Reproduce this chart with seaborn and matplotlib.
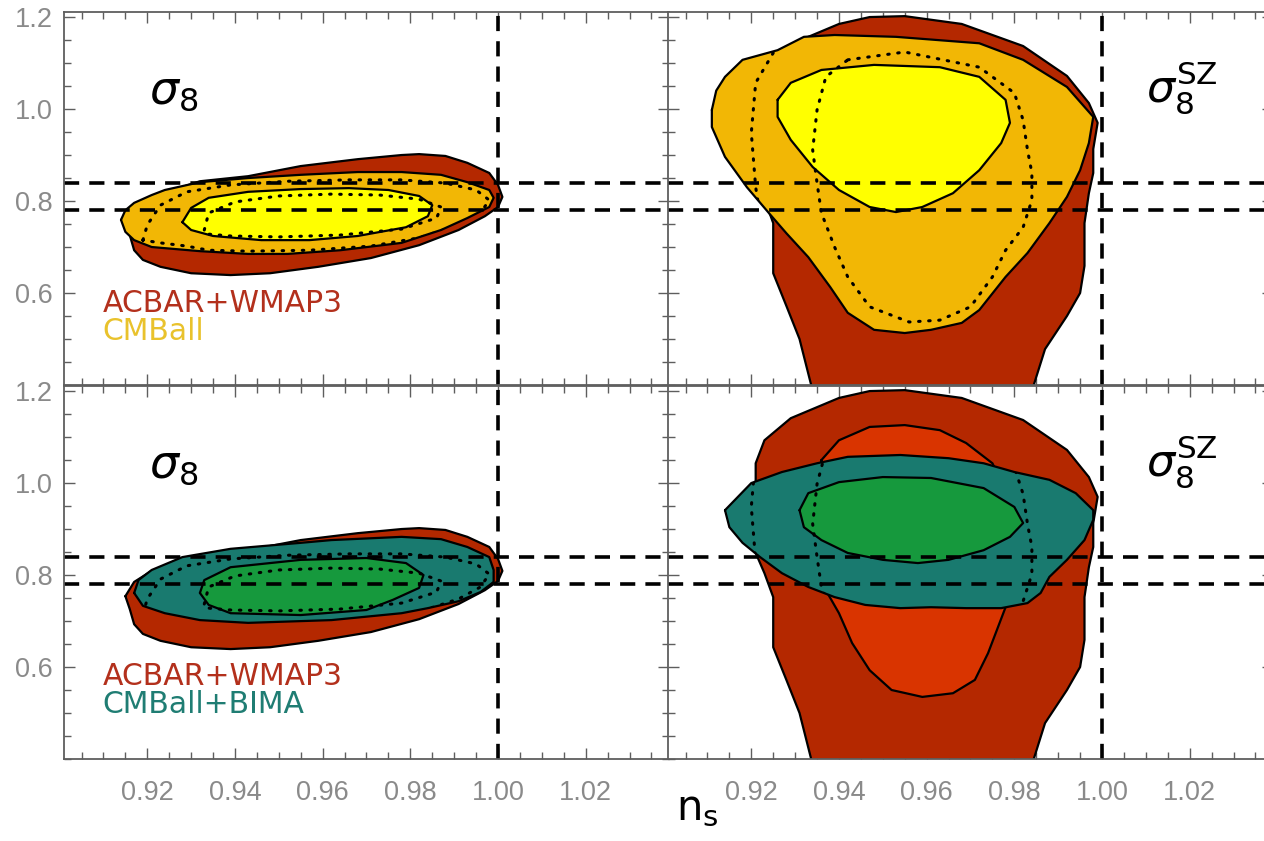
import matplotlib
matplotlib.use("Agg")
import matplotlib.pyplot as plt
import seaborn as sns
from matplotlib.ticker import FixedLocator, MultipleLocator, FormatStrFormatter

# ---------------- data (contour boundaries) ----------------
# left column: sigma_8
acbar_s8_95_ns = [0.915, 0.917, 0.921, 0.932, 0.943, 0.955, 0.968, 0.978, 0.982, 0.988, 0.993, 0.998, 1.000,
                  1.001, 1.000, 0.997, 0.991, 0.982, 0.971, 0.959, 0.948, 0.939, 0.930, 0.923, 0.919, 0.917, 0.916]
acbar_s8_95_s8 = [0.754, 0.785, 0.809, 0.843, 0.854, 0.876, 0.891, 0.900, 0.902, 0.898, 0.883, 0.861, 0.835,
                  0.809, 0.787, 0.767, 0.737, 0.704, 0.676, 0.657, 0.643, 0.639, 0.643, 0.657, 0.672, 0.693, 0.726]

cmball_s8_95_ns = [0.914, 0.915, 0.917, 0.921, 0.924, 0.932, 0.943, 0.955, 0.968, 0.978, 0.987, 0.993, 0.998,
                   0.999, 0.998, 0.993, 0.987, 0.978, 0.964, 0.952, 0.943, 0.932, 0.921, 0.917, 0.915]
cmball_s8_95_s8 = [0.759, 0.780, 0.796, 0.813, 0.824, 0.841, 0.850, 0.857, 0.863, 0.863, 0.857, 0.841, 0.824,
                   0.807, 0.787, 0.763, 0.737, 0.709, 0.693, 0.685, 0.685, 0.691, 0.700, 0.715, 0.733]
cmball_s8_68_ns = [0.928, 0.930, 0.934, 0.943, 0.955, 0.966, 0.975, 0.982, 0.985, 0.984, 0.979, 0.968, 0.957,
                   0.946, 0.935, 0.930]
cmball_s8_68_s8 = [0.754, 0.785, 0.807, 0.820, 0.826, 0.828, 0.824, 0.811, 0.791, 0.767, 0.743, 0.724, 0.715,
                   0.715, 0.724, 0.737]

bima_s8_95_ns = [0.917, 0.918, 0.921, 0.928, 0.939, 0.955, 0.962, 0.978, 0.987, 0.993, 0.998, 0.999, 0.999,
                 0.996, 0.991, 0.984, 0.978, 0.962, 0.943, 0.932, 0.924, 0.919]
bima_s8_95_s8 = [0.761, 0.789, 0.811, 0.839, 0.857, 0.870, 0.876, 0.883, 0.878, 0.861, 0.839, 0.811, 0.785,
                 0.763, 0.743, 0.728, 0.717, 0.702, 0.696, 0.702, 0.717, 0.733]
bima_s8_68_ns = [0.932, 0.933, 0.939, 0.955, 0.970, 0.979, 0.983, 0.982, 0.976, 0.970, 0.955, 0.939, 0.934]
bima_s8_68_s8 = [0.761, 0.789, 0.817, 0.833, 0.837, 0.826, 0.800, 0.772, 0.746, 0.724, 0.713, 0.717, 0.735]

ref_s8_95_ns = [0.919, 0.920, 0.923, 0.929, 0.939, 0.952, 0.966, 0.978, 0.988, 0.995, 0.998, 0.996, 0.991,
                0.982, 0.971, 0.957, 0.943, 0.934, 0.929, 0.923]
ref_s8_95_s8 = [0.715, 0.748, 0.791, 0.820, 0.835, 0.843, 0.846, 0.846, 0.839, 0.824, 0.802, 0.774, 0.748,
                0.720, 0.702, 0.693, 0.691, 0.693, 0.702, 0.709]
ref_s8_68_ns = [0.933, 0.934, 0.940, 0.950, 0.962, 0.973, 0.982, 0.987, 0.986, 0.978, 0.964, 0.950, 0.939, 0.934]
ref_s8_68_s8 = [0.737, 0.774, 0.798, 0.811, 0.815, 0.813, 0.804, 0.787, 0.763, 0.739, 0.726, 0.722, 0.724, 0.728]

# right column: sigma_8^SZ
acbar_sz_95_ns = [0.934, 0.931, 0.928, 0.925, 0.925, 0.925, 0.923, 0.921, 0.921, 0.921, 0.921, 0.923, 0.929,
                  0.940, 0.947, 0.955, 0.968, 0.982, 0.992, 0.997, 0.999, 0.998, 0.998, 0.997, 0.996, 0.996,
                  0.996, 0.995, 0.992, 0.987, 0.984]
acbar_sz_95_s8 = [0.387, 0.500, 0.572, 0.643, 0.702, 0.752, 0.804, 0.848, 0.941, 1.007, 1.043, 1.093, 1.141,
                  1.185, 1.200, 1.202, 1.185, 1.137, 1.072, 1.013, 0.970, 0.913, 0.861, 0.817, 0.752, 0.702,
                  0.659, 0.600, 0.550, 0.478, 0.387]
acbar_sz_68_ns = [0.936, 0.940, 0.947, 0.955, 0.963, 0.969, 0.975, 0.978, 0.979, 0.978, 0.978, 0.976, 0.974,
                  0.971, 0.966, 0.959, 0.952, 0.947, 0.943, 0.940, 0.937, 0.935, 0.934, 0.934]
acbar_sz_68_s8 = [1.050, 1.093, 1.122, 1.126, 1.115, 1.087, 1.043, 0.985, 0.898, 0.789, 0.730, 0.680, 0.630,
                  0.572, 0.543, 0.535, 0.550, 0.593, 0.652, 0.717, 0.767, 0.811, 0.876, 0.963]

cmball_sz_95_ns = [0.911, 0.912, 0.914, 0.918, 0.926, 0.932, 0.939, 0.953, 0.972, 0.982, 0.992, 0.998, 0.997,
                   0.995, 0.992, 0.988, 0.983, 0.978, 0.972, 0.968, 0.961, 0.955, 0.948, 0.942, 0.938, 0.933,
                   0.928, 0.924, 0.919, 0.914, 0.911]
cmball_sz_95_s8 = [0.998, 1.040, 1.070, 1.107, 1.128, 1.157, 1.161, 1.157, 1.143, 1.107, 1.048, 0.983, 0.926,
                   0.867, 0.809, 0.752, 0.687, 0.635, 0.563, 0.535, 0.520, 0.513, 0.520, 0.557, 0.613, 0.678,
                   0.730, 0.774, 0.830, 0.896, 0.961]
cmball_sz_68_ns = [0.926, 0.929, 0.936, 0.948, 0.963, 0.972, 0.978, 0.979, 0.977, 0.972, 0.966, 0.959, 0.953,
                   0.947, 0.940, 0.934, 0.929, 0.926]
cmball_sz_68_s8 = [1.020, 1.057, 1.085, 1.096, 1.091, 1.070, 1.020, 0.970, 0.926, 0.867, 0.817, 0.787, 0.776,
                   0.787, 0.824, 0.874, 0.933, 0.983]

bima_sz_95_ns = [0.914, 0.920, 0.927, 0.935, 0.942, 0.954, 0.965, 0.973, 0.980, 0.988, 0.994, 0.998, 0.998,
                 0.996, 0.992, 0.988, 0.986, 0.983, 0.977, 0.969, 0.961, 0.954, 0.946, 0.939, 0.933, 0.927,
                 0.922, 0.918, 0.915]
bima_sz_95_s8 = [0.941, 1.000, 1.024, 1.043, 1.057, 1.061, 1.054, 1.043, 1.024, 1.007, 0.978, 0.941, 0.920,
                 0.876, 0.833, 0.796, 0.761, 0.739, 0.728, 0.728, 0.730, 0.728, 0.735, 0.752, 0.774, 0.804,
                 0.839, 0.870, 0.904]
bima_sz_68_ns = [0.931, 0.933, 0.940, 0.950, 0.961, 0.973, 0.980, 0.982, 0.979, 0.973, 0.965, 0.958, 0.950,
                 0.942, 0.936, 0.932]
bima_sz_68_s8 = [0.941, 0.978, 1.002, 1.013, 1.011, 0.989, 0.948, 0.913, 0.883, 0.854, 0.833, 0.826, 0.833,
                 0.848, 0.876, 0.904]

ref_sz_95_ns = [0.925, 0.921, 0.920, 0.921, 0.922, 0.924, 0.931, 0.965, 1.002, 1.002, 0.931]
ref_sz_95_s8 = [1.122, 1.057, 0.948, 0.830, 0.770, 0.672, 0.487, 0.476, 0.585, 1.172, 1.176]
ref_sz_68_ns = [0.942, 0.955, 0.972, 0.980, 0.982, 0.983, 0.984, 0.984, 0.982, 0.978, 0.975, 0.970, 0.963,
                0.956, 0.947, 0.942, 0.939, 0.936, 0.935, 0.934, 0.935, 0.937]
ref_sz_68_s8 = [1.107, 1.124, 1.091, 1.035, 0.976, 0.911, 0.861, 0.802, 0.743, 0.693, 0.635, 0.570, 0.541,
                0.537, 0.570, 0.635, 0.700, 0.774, 0.839, 0.911, 0.998, 1.070]

# reference lines
hline_s8 = [0.78, 0.84]
vline_ns = [1.00]

# ticks
xtick_major = [0.92, 0.94, 0.96, 0.98, 1.00, 1.02]
ytick_major = [0.6, 0.8, 1.0, 1.2]

# labels
label_acbar = "ACBAR+WMAP3"
label_cmball = "CMBall"
label_bima = "CMBall+BIMA"

# ---------------- style ----------------
sns.set_theme(style="ticks")
plt.rcParams["font.family"] = ["Liberation Sans", "DejaVu Sans"]
plt.rcParams["mathtext.fontset"] = "dejavusans"

C_RED_OUT = "#b42800"
C_RED_IN = "#d93400"
C_GOLD = "#f2b705"
C_YELLOW = "#ffff00"
C_TEAL = "#197a6f"
C_GREEN = "#16993d"
TICK_LABEL_C = "#8a8a8a"
SPINE_C = "#5e5e5e"

fig = plt.figure(figsize=(12.64, 8.41), dpi=100)
W, H = 1264.0, 841.0
x_left, x_right, w = 64 / W, 668 / W, 605 / W
y_top, y_bot, h = 1 - 385 / H, 1 - 759 / H, 373 / H

ax_tl = fig.add_axes([x_left, y_top, w, h])
ax_tr = fig.add_axes([x_right, y_top, w, h])
ax_bl = fig.add_axes([x_left, y_bot, w, h])
ax_br = fig.add_axes([x_right, y_bot, w, h])


def region(ax, ns, s8, color, z):
    poly = ax.fill(ns, s8, facecolor=color, edgecolor="none", zorder=z)[0]
    xs = list(ns) + [ns[0]]
    ys = list(s8) + [s8[0]]
    sns.lineplot(x=xs, y=ys, sort=False, estimator=None, color="black",
                 linewidth=1.6, ax=ax, zorder=z + 0.5)
    ax.lines[-1].set_solid_joinstyle("round")
    return poly


def dotted(ax, ns, s8, clip):
    xs = list(ns) + [ns[0]]
    ys = list(s8) + [s8[0]]
    line, = ax.plot(xs, ys, color="black", linewidth=2.2, linestyle=(0, (0.5, 2.8)), zorder=8)
    line.set_dash_capstyle("round")
    line.set_clip_path(clip)


# top-left
region(ax_tl, acbar_s8_95_ns, acbar_s8_95_s8, C_RED_OUT, 1)
clip = region(ax_tl, cmball_s8_95_ns, cmball_s8_95_s8, C_GOLD, 3)
region(ax_tl, cmball_s8_68_ns, cmball_s8_68_s8, C_YELLOW, 4)
dotted(ax_tl, ref_s8_95_ns, ref_s8_95_s8, clip)
dotted(ax_tl, ref_s8_68_ns, ref_s8_68_s8, clip)

# bottom-left
region(ax_bl, acbar_s8_95_ns, acbar_s8_95_s8, C_RED_OUT, 1)
clip = region(ax_bl, bima_s8_95_ns, bima_s8_95_s8, C_TEAL, 3)
region(ax_bl, bima_s8_68_ns, bima_s8_68_s8, C_GREEN, 4)
dotted(ax_bl, ref_s8_95_ns, ref_s8_95_s8, clip)
dotted(ax_bl, ref_s8_68_ns, ref_s8_68_s8, clip)

# top-right
region(ax_tr, acbar_sz_95_ns, acbar_sz_95_s8, C_RED_OUT, 1)
clip = region(ax_tr, cmball_sz_95_ns, cmball_sz_95_s8, C_GOLD, 3)
region(ax_tr, cmball_sz_68_ns, cmball_sz_68_s8, C_YELLOW, 4)
dotted(ax_tr, ref_sz_95_ns, ref_sz_95_s8, clip)
dotted(ax_tr, ref_sz_68_ns, ref_sz_68_s8, clip)

# bottom-right
region(ax_br, acbar_sz_95_ns, acbar_sz_95_s8, C_RED_OUT, 1)
region(ax_br, acbar_sz_68_ns, acbar_sz_68_s8, C_RED_IN, 2)
clip = region(ax_br, bima_sz_95_ns, bima_sz_95_s8, C_TEAL, 3)
region(ax_br, bima_sz_68_ns, bima_sz_68_s8, C_GREEN, 4)
dotted(ax_br, ref_sz_95_ns, ref_sz_95_s8, clip)
dotted(ax_br, ref_sz_68_ns, ref_sz_68_s8, clip)

for ax in (ax_tl, ax_tr, ax_bl, ax_br):
    for v in hline_s8:
        ax.axhline(v, color="black", linewidth=2.6, linestyle=(0, (4.2, 2.8)), zorder=9)
    for v in vline_ns:
        ax.axvline(v, color="black", linewidth=2.6, linestyle=(0, (4.2, 2.8)), zorder=9)
    ax.set_xlim(0.901, 1.039)
    ax.set_ylim(0.4, 1.211)
    ax.xaxis.set_major_locator(FixedLocator(xtick_major))
    ax.xaxis.set_minor_locator(MultipleLocator(0.005))
    ax.yaxis.set_major_locator(FixedLocator(ytick_major))
    ax.yaxis.set_minor_locator(MultipleLocator(0.05))
    ax.xaxis.set_major_formatter(FormatStrFormatter("%.2f"))
    ax.yaxis.set_major_formatter(FormatStrFormatter("%.1f"))
    ax.tick_params(which="both", direction="in", top=True, right=True, bottom=True, left=True,
                   color=SPINE_C, width=1.0, labelcolor=TICK_LABEL_C, labelsize=19.5)
    ax.tick_params(which="major", length=8)
    ax.tick_params(which="minor", length=5)
    ax.tick_params(axis="x", pad=15)
    ax.tick_params(axis="y", pad=8)
    ax.set_xlabel("")
    ax.set_ylabel("")
    for sp in ax.spines.values():
        sp.set_color(SPINE_C)
        sp.set_linewidth(1.3)
        sp.set_zorder(10)
    ax.set_facecolor("white")

ax_tl.tick_params(labelbottom=False)
ax_tr.tick_params(labelbottom=False, labelleft=False)
ax_br.tick_params(labelleft=False)

# panel labels
for ax in (ax_tl, ax_bl):
    ax.text(0.140, 0.755, r"$\sigma_8$", transform=ax.transAxes, fontsize=33,
            ha="left", va="baseline", color="black", zorder=11)
for ax in (ax_tr, ax_br):
    ax.text(0.790, 0.755, r"$\sigma_8^{\mathrm{SZ}}$", transform=ax.transAxes, fontsize=32,
            ha="left", va="baseline", color="black", zorder=11)

# legend-like texts
ax_tl.text(0.064, 0.196, label_acbar, transform=ax_tl.transAxes, fontsize=21.5, family="DejaVu Sans",
           color="#b3301c", ha="left", va="baseline", zorder=11)
ax_tl.text(0.064, 0.121, label_cmball, transform=ax_tl.transAxes, fontsize=21.5, family="DejaVu Sans",
           color="#e9c22c", ha="left", va="baseline", zorder=11)
ax_bl.text(0.064, 0.198, label_acbar, transform=ax_bl.transAxes, fontsize=21.5, family="DejaVu Sans",
           color="#b3301c", ha="left", va="baseline", zorder=11)
ax_bl.text(0.064, 0.123, label_bima, transform=ax_bl.transAxes, fontsize=21.5, family="DejaVu Sans",
           color="#1f7d73", ha="left", va="baseline", zorder=11)

fig.text(676 / W, 1 - 820 / H, r"$\mathrm{n}_\mathrm{s}$", fontsize=30, ha="left", va="baseline",
         color="black")

fig.savefig("out.png", dpi=100, facecolor="white")
